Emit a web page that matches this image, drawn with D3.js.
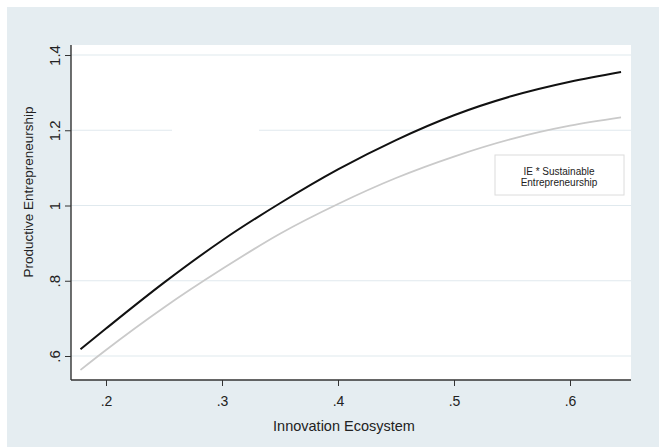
<!DOCTYPE html>
<html lang="en">
<head>
    <meta charset="UTF-8">
    <title>Productive Entrepreneurship</title>
    <script src="https://d3js.org/d3.v7.min.js"></script>
    <style>
        body{margin: 0; background: #fff;}
        text{font-family: "Liberation Sans", Arial, sans-serif; fill: #222;}
    </style>
</head>
<body>
    <div id="plot"></div>

    <script>
        function translate(x, y){
            return 'translate(' + x + ', ' + y + ')';
        }

        // values
        let ieValues = [0.178, 0.2, 0.25, 0.3, 0.35, 0.4, 0.45, 0.5, 0.55, 0.6, 0.644];
        let peMain = [0.618, 0.673, 0.795, 0.907, 1.006, 1.096, 1.174, 1.240, 1.291, 1.329, 1.355];
        let peSustainable = [0.563, 0.616, 0.729, 0.831, 0.925, 1.004, 1.073, 1.130, 1.177, 1.212, 1.234];
        let xTicks = [0.2, 0.3, 0.4, 0.5, 0.6];
        let yTicks = [0.6, 0.8, 1.0, 1.2, 1.4];
        let legendLines = ['IE * Sustainable', 'Entrepreneurship'];

        let svgWidth = 659, svgHeight = 447;
        let plot = {left: 71, right: 631, top: 45, bottom: 380};

        let svg = d3.select('#plot')
                    .append('svg')
                        .attr('width', svgWidth)
                        .attr('height', svgHeight);

        // outer background and plot region
        svg.append('rect')
            .attr('x', 7).attr('y', 7)
            .attr('width', svgWidth - 7).attr('height', svgHeight - 7)
            .attr('fill', '#e5edf1');
        svg.append('rect')
            .attr('x', plot.left).attr('y', plot.top)
            .attr('width', plot.right - plot.left).attr('height', plot.bottom - plot.top)
            .attr('fill', '#fff');

        let x = d3.scaleLinear()
                    .domain([0.2, 0.6])
                    .range([106, 570]);
        let y = d3.scaleLinear()
                    .domain([0.6, 1.4])
                    .range([356, 55]);

        // grid lines
        svg.append('g')
            .selectAll('line')
            .data(yTicks)
            .join('line')
                .attr('x1', plot.left).attr('x2', plot.right)
                .attr('y1', d => y(d)).attr('y2', d => y(d))
                .attr('stroke', '#e0e9ee')
                .attr('stroke-width', 1.2);

        // gap in the 1.2 grid line seen in the original
        svg.append('rect')
            .attr('x', 172).attr('y', y(1.2) - 2)
            .attr('width', 87).attr('height', 4)
            .attr('fill', '#fff');

        let xAxis = d3.axisBottom(x)
                        .tickValues(xTicks)
                        .tickSize(6)
                        .tickFormat(d => d3.format('.1f')(d).replace(/^0/, ''));
        let yAxis = d3.axisLeft(y)
                        .tickValues(yTicks)
                        .tickSize(6)
                        .tickFormat(d => d === 1 ? '1' : d3.format('.1f')(d).replace(/^0/, ''));

        let gx = svg.append('g')
            .attr('transform', translate(0, plot.bottom))
            .call(xAxis);
        gx.select('.domain').remove();
        gx.selectAll('line').attr('stroke', '#333');
        gx.selectAll('text')
            .attr('font-size', 14)
            .attr('dy', null)
            .attr('y', 26);

        let gy = svg.append('g')
            .attr('transform', translate(plot.left, 0))
            .call(yAxis);
        gy.select('.domain').remove();
        gy.selectAll('line').attr('stroke', '#333');
        gy.selectAll('text')
            .attr('font-size', 15)
            .attr('x', null).attr('dy', null)
            .attr('text-anchor', 'middle')
            .attr('transform', 'translate(-11, 0) rotate(-90)');

        // axis lines
        svg.append('line')
            .attr('x1', plot.left).attr('x2', plot.left)
            .attr('y1', plot.top).attr('y2', plot.bottom)
            .attr('stroke', '#333').attr('stroke-width', 1.4);
        svg.append('line')
            .attr('x1', plot.left).attr('x2', plot.right)
            .attr('y1', plot.bottom).attr('y2', plot.bottom)
            .attr('stroke', '#333').attr('stroke-width', 1.4);

        // curves
        let line = d3.line()
                    .x(d => x(d[0]))
                    .y(d => y(d[1]))
                    .curve(d3.curveMonotoneX);

        svg.append('path')
            .datum(ieValues.map((v, i) => [v, peSustainable[i]]))
            .attr('d', line)
            .attr('fill', 'none')
            .attr('stroke', '#cacaca')
            .attr('stroke-width', 1.8);

        svg.append('path')
            .datum(ieValues.map((v, i) => [v, peMain[i]]))
            .attr('d', line)
            .attr('fill', 'none')
            .attr('stroke', '#111')
            .attr('stroke-width', 2);

        // axis titles
        svg.append('text')
            .attr('x', 344).attr('y', 431)
            .attr('text-anchor', 'middle')
            .attr('font-size', 14.5)
            .text('Innovation Ecosystem');
        svg.append('text')
            .attr('transform', translate(33, 192) + ' rotate(-90)')
            .attr('text-anchor', 'middle')
            .attr('font-size', 13.5)
            .text('Productive Entrepreneurship');

        // legend
        let legend = svg.append('g');
        legend.append('rect')
            .attr('x', 495).attr('y', 155)
            .attr('width', 129).attr('height', 40)
            .attr('fill', '#fff')
            .attr('stroke', '#dcdcdc');
        legend.selectAll('text.leg')
            .data(legendLines)
            .join('text')
                .attr('class', 'leg')
                .attr('x', 559)
                .attr('y', (d, i) => 174.5 + i * 11.5)
                .attr('text-anchor', 'middle')
                .attr('font-size', 10)
                .text(d => d);
    </script>
</body>
</html>
